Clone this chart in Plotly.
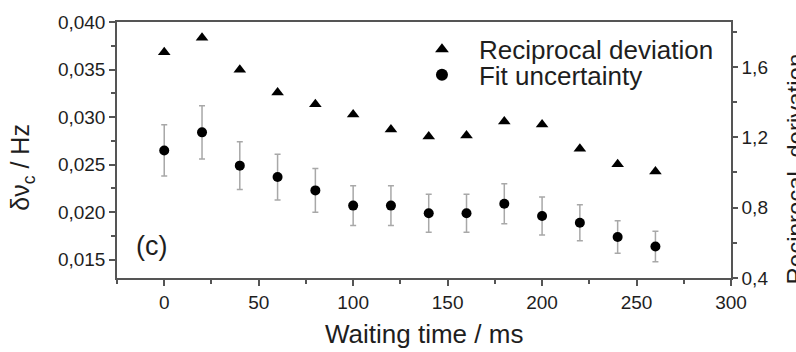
import plotly.graph_objects as go

waiting_time = [0, 20, 40, 60, 80, 100, 120, 140, 160, 180, 200, 220, 240, 260]
fit_uncertainty = [0.0265, 0.0284, 0.0249, 0.0237, 0.0223, 0.0207, 0.0207, 0.0199, 0.0199, 0.0209, 0.0196, 0.0189, 0.0174, 0.0164]
fit_error = [0.0027, 0.0028, 0.0025, 0.0024, 0.0023, 0.0021, 0.0021, 0.0020, 0.0020, 0.0021, 0.0020, 0.0019, 0.0017, 0.0016]
reciprocal_deviation = [1.683, 1.765, 1.583, 1.454, 1.387, 1.329, 1.244, 1.204, 1.210, 1.290, 1.273, 1.134, 1.046, 1.005]

FONT = "Liberation Sans, Arial, sans-serif"
TXT = "#1e1e1e"
AX = "#555555"

fig = go.Figure()
fig.add_trace(go.Scatter(
    x=waiting_time, y=reciprocal_deviation, mode="markers", name="Reciprocal deviation",
    marker=dict(symbol="triangle-up", size=11, color="black"), yaxis="y2", legend="legend"))
fig.add_trace(go.Scatter(
    x=waiting_time, y=fit_uncertainty, mode="markers", name="Fit uncertainty",
    marker=dict(symbol="circle", size=10, color="black"), legend="legend2",
    error_y=dict(type="data", array=fit_error, visible=True, color="#a8a8a8", thickness=1.5, width=3)))

leg_common = dict(xanchor="left", yanchor="middle", bgcolor="rgba(0,0,0,0)",
                  font=dict(size=26, color=TXT), itemsizing="constant", itemwidth=64)

fig.update_layout(
    width=796, height=352,
    margin=dict(l=117, r=65, t=16, b=74),
    paper_bgcolor="white", plot_bgcolor="white",
    separators=",.",
    font=dict(family=FONT, size=18, color=TXT),
    showlegend=True,
    legend=dict(x=0.469, y=0.893, **leg_common),
    legend2=dict(x=0.469, y=0.794, **leg_common),
    xaxis=dict(range=[-25, 300], dtick=50, tick0=0, showline=True, linecolor=AX, linewidth=1.5,
               mirror=True, ticks="outside", ticklen=6, tickwidth=1.5, tickcolor=AX,
               minor=dict(dtick=25, ticks="outside", ticklen=4, tickwidth=1.5, tickcolor=AX),
               showgrid=False, zeroline=False, tickfont=dict(size=19, color=TXT)),
    yaxis=dict(range=[0.01309, 0.040], dtick=0.005, tick0=0.015, tickformat=".3f",
               showline=True, linecolor=AX, linewidth=1.5, ticks="outside", ticklen=6,
               tickwidth=1.5, tickcolor=AX,
               minor=dict(dtick=0.0025, ticks="outside", ticklen=4, tickwidth=1.5, tickcolor=AX),
               showgrid=False, zeroline=False, tickfont=dict(size=19, color=TXT)),
    yaxis2=dict(range=[0.4, 1.855], dtick=0.4, tick0=0.4, tickformat=".1f", overlaying="y",
                side="right", showline=True, linecolor=AX, linewidth=1.5, ticks="outside",
                ticklen=5, tickwidth=1.5, tickcolor=AX,
                minor=dict(dtick=0.2, ticks="outside", ticklen=4, tickwidth=1.5, tickcolor=AX),
                showgrid=False, zeroline=False, tickfont=dict(size=19, color=TXT)),
    annotations=[
        dict(text="Waiting time / ms", x=0.5, y=-0.2176, xref="paper", yref="paper",
             xanchor="center", yanchor="middle", showarrow=False, font=dict(size=26, color=TXT)),
        dict(text="δν<sub>c</sub> / Hz", x=-0.1547, y=0.431, xref="paper", yref="paper",
             xanchor="center", yanchor="middle", textangle=-90, showarrow=False,
             font=dict(size=25, color=TXT)),
        dict(text="Reciprocal  derivation", x=1.1055, y=0.427, xref="paper", yref="paper",
             xanchor="center", yanchor="middle", textangle=-90, showarrow=False,
             font=dict(size=24, color=TXT)),
        dict(text="(c)", x=0.057, y=0.126, xref="paper", yref="paper",
             xanchor="center", yanchor="middle", showarrow=False, font=dict(size=27, color=TXT)),
    ],
)

fig.write_html("out.html")
